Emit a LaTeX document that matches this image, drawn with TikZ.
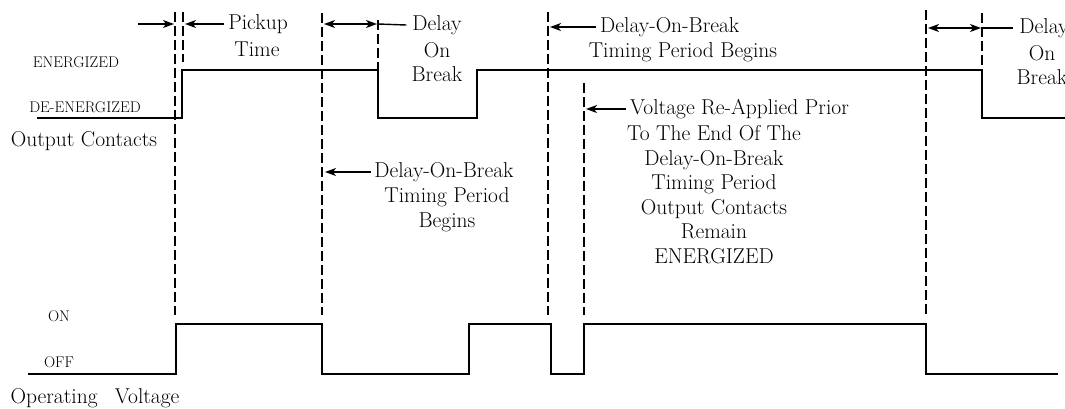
\documentclass[tikz,border=0pt]{standalone}
\usetikzlibrary{arrows.meta}
\begin{document}
\begin{tikzpicture}[x=1pt,y=-1pt,
  dl/.style={line width=2pt, dash pattern=on 10pt off 4pt},
  trace/.style={line width=2.2pt, line join=miter},
  arr/.style={line width=1.4pt, -{Stealth[length=11pt,width=8pt,inset=3pt]}},
  darr/.style={line width=1.4pt, {Stealth[length=11pt,width=8pt,inset=3pt]}-{Stealth[length=11pt,width=8pt,inset=3pt]}},
  plain/.style={line width=1.4pt},
  big/.style={font=\fontsize{21.5}{24.5}\selectfont, inner sep=0pt, align=center},
  small/.style={font=\fontsize{15.5}{17}\selectfont, inner sep=0pt}]
\useasboundingbox (0,0) rectangle (1065,408);
\clip (0,0) rectangle (1065,408);
% dashed reference lines
\coordinate (d1t) at (175,12);  \coordinate (d1b) at (175,315);
\coordinate (d2t) at (183,12);  \coordinate (d2b) at (183,62);
\coordinate (d3t) at (322,13);  \coordinate (d3b) at (322,315);
\coordinate (d4t) at (378,20);  \coordinate (d4b) at (378,70);
\coordinate (d5t) at (548,12);  \coordinate (d5b) at (548,315);
\coordinate (d6t) at (584,83);  \coordinate (d6b) at (584,315);
\coordinate (d7t) at (926,10);  \coordinate (d7b) at (926,315);
\coordinate (d8t) at (982,13);  \coordinate (d8b) at (982,70);
\foreach \i in {1,...,8} {\draw[dl] (d\i t) -- (d\i b);}
% traces
\draw[trace] (37,118) -- (182,118) -- (182,70) -- (378,70) -- (378,118) -- (477,118) -- (477,70) -- (982,70) -- (982,118) -- (1065,118);
\draw[trace] (28,374) -- (176,374) -- (176,324) -- (322,324) -- (322,374) -- (469,374) -- (469,324) -- (551,324) -- (551,374) -- (584,374) -- (584,324) -- (926,324) -- (926,374) -- (1058,374);
% level labels
\node[small] (en) at (76,62) {ENERGIZED};
\node[small] (de) at (85,107) {DE-ENERGIZED};
\node[big] (oc) at (84,141) {Output Contacts};
\node[small] (on) at (59,316) {ON};
\node[small] (off) at (59,362) {OFF};
\node[big] (ov) at (95,398) {Operating\hspace{0.5em} Voltage};
% pickup
\coordinate (a0) at (138,24);
\draw[arr] (a0) -- ([xshift=-1pt]a0 -| d1t);
\node[big] (p1) at (258,24) {Pickup};
\node[big] (p2) at (257,49) {Time};
\draw[arr] ([xshift=-4pt]p1.west) -- ([xshift=2pt]p1.west -| d2t);
% delay on break 1
\coordinate (m3) at (322,24); \coordinate (m4) at (378,24);
\draw[darr] ([xshift=2pt]m3) -- ([xshift=-1pt]m4);
\node[big] (b1) at (437,25) {Delay};
\node[big] (b2) at (437,62) {On\\Break};
\draw[plain] (m4) -- ([xshift=-6pt]b1.west);
% delay-on-break timing period (middle)
\node[big] (m1) at (444,172) {Delay-On-Break};
\node[big] (m2) at (447,209.5) {Timing Period\\Begins};
\draw[arr] ([xshift=-3pt]m1.west) -- ([xshift=3pt]m1.west -| d3t);
% delay-on-break timing period (top)
\node[big, anchor=west] (t1) at (600,27) {Delay-On-Break};
\node[big] (t2) at (683,52) {Timing Period Begins};
\draw[arr] ([xshift=-4pt]t1.west) -- ([xshift=2pt]t1.west -| d5t);
% voltage re-applied
\node[big, anchor=west] (v1) at (630,109) {Voltage Re-Applied Prior};
\node[big] (v2) at (714,194.5) {To The End Of The\\Delay-On-Break\\Timing Period\\Output Contacts\\Remain\\ENERGIZED};
\draw[arr] ([xshift=-4pt]v1.west) -- ([xshift=2pt]v1.west -| d6t);
% delay on break 2 (right)
\coordinate (m7) at (926,28); \coordinate (m8) at (982,28);
\draw[darr] ([xshift=2pt]m7) -- ([xshift=-1pt]m8);
\node[big] (r1) at (1044,28) {Delay};
\node[big] (r2) at (1042,65) {On\\Break};
\draw[plain] (m8) -- ([xshift=-6pt]r1.west);
\end{tikzpicture}
\end{document}
